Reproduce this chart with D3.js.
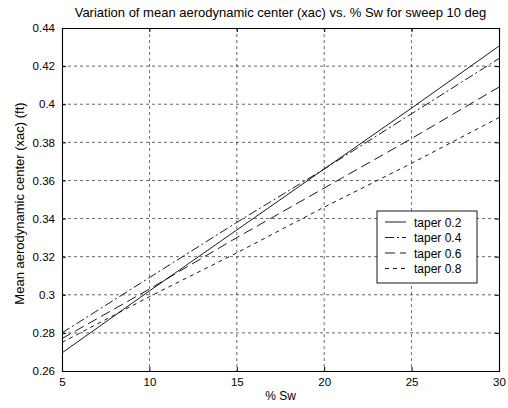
<!DOCTYPE html>
<html>
<head>
<meta charset="utf-8">
<script src="https://cdn.jsdelivr.net/npm/d3@7"></script>
<style>
body { margin: 0; background: #fff; }
text { font-family: "Liberation Sans", Arial, sans-serif; fill: #000; }
</style>
</head>
<body>
<div id="chart-area"></div>
<script>
// data
var sweepPct = [5, 10, 15, 20, 25, 30];
var taper02 = [0.2695, 0.302, 0.334, 0.366, 0.398, 0.4305];
var taper04 = [0.2800, 0.309, 0.338, 0.366, 0.395, 0.424];
var taper06 = [0.2770, 0.303, 0.330, 0.356, 0.382, 0.409];
var taper08 = [0.2750, 0.299, 0.322, 0.346, 0.369, 0.393];
var seriesNames = ["taper 0.2", "taper 0.4", "taper 0.6", "taper 0.8"];
var xTicks = [5, 10, 15, 20, 25, 30];
var yTicks = [0.26, 0.28, 0.3, 0.32, 0.34, 0.36, 0.38, 0.4, 0.42, 0.44];

var series = [taper02, taper04, taper06, taper08];
var dashes = ["none", "9,3,2,3", "10,5", "4,4"];

var margin = { left: 62, right: 9, top: 28, bottom: 37 };
var width = 508 - margin.left - margin.right,
    height = 408 - margin.top - margin.bottom;

var svg = d3.select("#chart-area")
    .append("svg")
        .attr("width", 508)
        .attr("height", 408);

var g = svg.append("g")
    .attr("transform", "translate(" + margin.left + "," + margin.top + ")");

var x = d3.scaleLinear().domain([5, 30]).range([0, width]);
var y = d3.scaleLinear().domain([0.26, 0.44]).range([height, 0]);

// grid
g.append("g").selectAll("line.vg")
    .data(xTicks.slice(1, -1))
    .enter().append("line")
        .attr("x1", d => x(d)).attr("x2", d => x(d))
        .attr("y1", 0).attr("y2", height)
        .attr("stroke", "#000").attr("stroke-width", 0.8)
        .attr("stroke-dasharray", "3,3").attr("opacity", 0.75);
g.append("g").selectAll("line.hg")
    .data(yTicks.slice(1, -1))
    .enter().append("line")
        .attr("x1", 0).attr("x2", width)
        .attr("y1", d => y(d)).attr("y2", d => y(d))
        .attr("stroke", "#000").attr("stroke-width", 0.8)
        .attr("stroke-dasharray", "3,3").attr("opacity", 0.75);

// axes
var xAxisCall = d3.axisBottom(x).tickValues(xTicks).tickSize(-4).tickPadding(7)
    .tickFormat(d3.format("d"));
g.append("g")
    .attr("transform", "translate(0," + height + ")")
    .call(xAxisCall);
g.append("g")
    .call(d3.axisTop(x).tickValues(xTicks).tickSize(-4).tickFormat(""));

var yAxisCall = d3.axisLeft(y).tickValues(yTicks).tickSize(-4).tickPadding(7)
    .tickFormat(d => d3.format("")(+d.toFixed(2)));
g.append("g").call(yAxisCall);
g.append("g")
    .attr("transform", "translate(" + width + ",0)")
    .call(d3.axisRight(y).tickValues(yTicks).tickSize(-4).tickFormat(""));

g.selectAll(".domain").attr("stroke", "#000").attr("stroke-width", 1.1);
g.selectAll(".tick line").attr("stroke", "#000");
g.selectAll(".tick text").attr("font-size", "11.5px")
    .style("font-family", "'Liberation Sans', Arial, sans-serif");

// lines
var line = d3.line()
    .x((d, i) => x(sweepPct[i]))
    .y(d => y(d));

g.selectAll("path.series")
    .data(series)
    .enter().append("path")
        .attr("class", "series")
        .attr("d", line)
        .attr("fill", "none")
        .attr("stroke", "#000")
        .attr("stroke-width", 0.9)
        .attr("stroke-dasharray", (d, i) => dashes[i]);

// legend
var lg = g.append("g").attr("transform", "translate(" + (377 - margin.left) + "," + (211 - margin.top) + ")");
lg.append("rect")
    .attr("width", 100).attr("height", 72)
    .attr("fill", "#fff").attr("stroke", "#000").attr("stroke-width", 0.9);
seriesNames.forEach((name, i) => {
    var yy = 11 + i * 15.5;
    lg.append("line")
        .attr("x1", 8).attr("x2", 29)
        .attr("y1", yy).attr("y2", yy)
        .attr("stroke", "#000").attr("stroke-width", 0.9)
        .attr("stroke-dasharray", dashes[i]);
    lg.append("text")
        .attr("x", 37).attr("y", yy + 4.5)
        .attr("font-size", "12px")
        .text(name);
});

// title and labels
svg.append("text")
    .attr("x", margin.left + width / 2).attr("y", 17)
    .attr("text-anchor", "middle").attr("font-size", "13px")
    .text("Variation of mean aerodynamic center (xac) vs. % Sw for sweep 10 deg");

svg.append("text")
    .attr("x", margin.left + width / 2).attr("y", 400)
    .attr("text-anchor", "middle").attr("font-size", "12px")
    .text("% Sw");

svg.append("text")
    .attr("transform", "translate(24," + (margin.top + height / 2 + 4) + ") rotate(-90)")
    .attr("text-anchor", "middle").attr("font-size", "13px")
    .text("Mean aerodynamic center (xac) (ft)");
</script>
</body>
</html>
